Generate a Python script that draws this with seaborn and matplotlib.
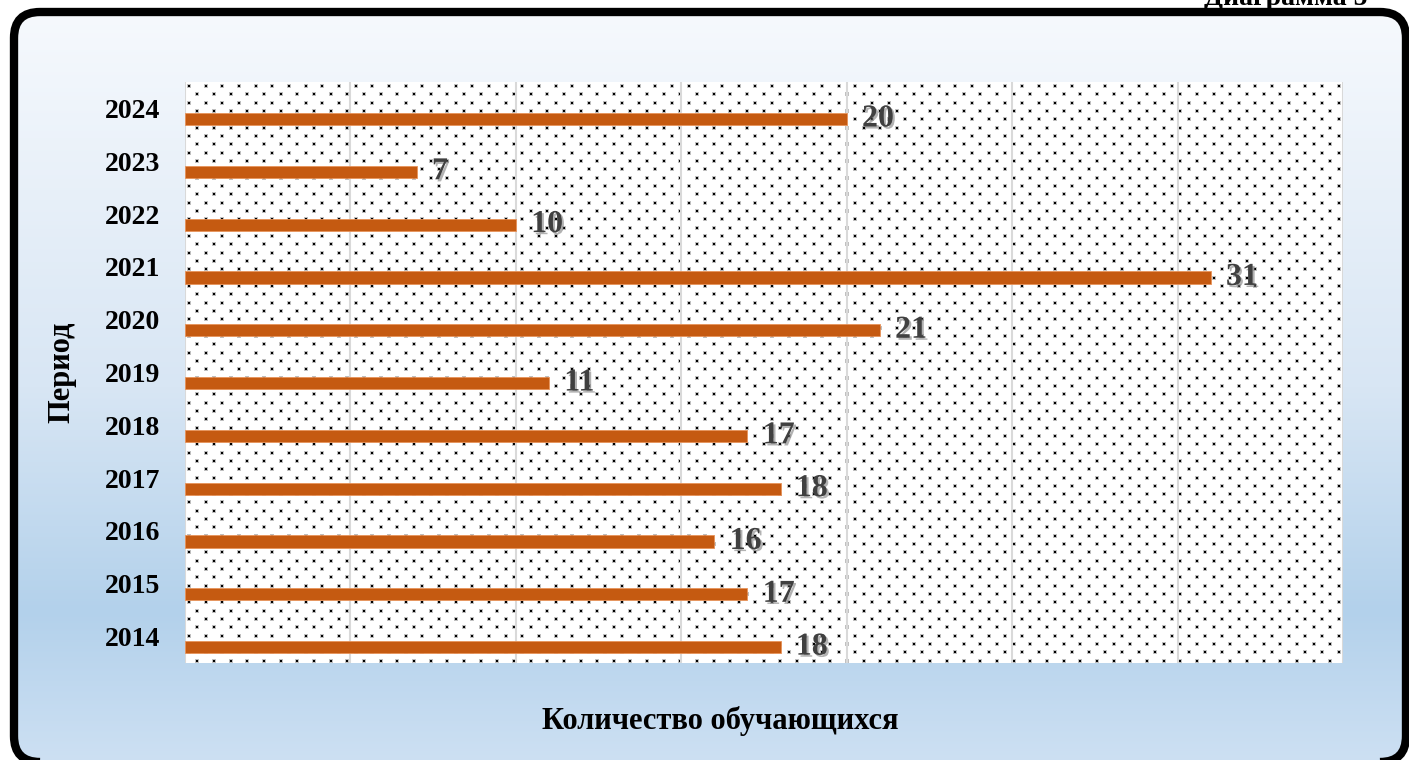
import numpy as np
import pandas as pd
import matplotlib
matplotlib.use("Agg")
import matplotlib.pyplot as plt
import matplotlib.patheffects as pe
from matplotlib.patches import FancyBboxPatch
import seaborn as sns

# data, top to bottom as in the chart
years = ["2024", "2023", "2022", "2021", "2020", "2019", "2018", "2017", "2016", "2015", "2014"]
students = [20, 7, 10, 31, 21, 11, 17, 18, 16, 17, 18]

title = "Диаграмма 5"
xlabel = "Количество обучающихся"
ylabel = "Период"

df = pd.DataFrame({"year": years, "n": students})

W, H = 1409, 760
fig = plt.figure(figsize=(W / 100, H / 100), dpi=100)
plt.rcParams["font.family"] = ["Liberation Serif", "DejaVu Serif"]

# plot area in pixels (from top-left)
px0, px1, py0, py1 = 185, 1343, 82, 663

# background axes in pixel units
bg = fig.add_axes([0, 0, 1, 1], zorder=-1)
bg.set_xlim(0, W)
bg.set_ylim(0, H)
bg.axis("off")

box = FancyBboxPatch((14, -2), 1392, 750, boxstyle="round,pad=0,rounding_size=26",
                     fc="none", ec="black", lw=6, zorder=3)
bg.add_patch(box)

# vertical gradient white -> light blue
stops = np.array([[0.0, 0xf6, 0xf9, 0xfd],
                  [0.5, 0xd8, 0xe6, 0xf4],
                  [0.8, 0xb3, 0xd1, 0xeb],
                  [1.0, 0xcd, 0xe0, 0xf3]])
t = np.linspace(0, 1, 400)
grad = np.stack([np.interp(t, stops[:, 0], stops[:, k]) for k in (1, 2, 3)], axis=-1) / 255
grad = grad[:, None, :]
im = bg.imshow(grad, extent=[14, 1406, -2, 748], aspect="auto", origin="upper", zorder=1)
im.set_clip_path(box)

# dotted fill of the plot area
ph, pw = py1 - py0, px1 - px0
pat = np.ones((ph, pw, 3))
sp = 8.33
for j in range(int(ph / sp) + 1):
    yy = int(round(j * sp)) + 3
    for i in range(int(pw / sp) + 1):
        if (i + j) % 2:
            continue
        xx = int(round(i * sp)) + 3
        pat[yy - 1:yy + 3, xx - 1:xx + 3] = np.minimum(pat[yy - 1:yy + 3, xx - 1:xx + 3], 0.75)
        pat[yy:yy + 2, xx:xx + 2] = 0.0
bg.imshow(pat, extent=[px0, px1, H - py1, H - py0], aspect="auto",
          interpolation="nearest", zorder=2)

# main axes
ax = fig.add_axes([px0 / W, (H - py1) / H, pw / W, ph / H], zorder=1)
ax.patch.set_alpha(0)
sns.barplot(data=df, x="n", y="year", order=years, orient="h", width=0.23,
            color="#c55a11", edgecolor="#e8935a", linewidth=0.6, saturation=1, ax=ax)

n = len(years)
off = 0.2
ax.set_ylim(n - 0.5 - off, -0.5 - off)
ax.set_yticks(np.arange(n) - off)
ax.set_yticklabels(years, fontsize=20, fontweight="bold", color="black")
ax.set_xlim(0, 35)
ax.set_xticks(np.arange(0, 36, 5))
ax.set_xticklabels([])
ax.tick_params(length=0)
ax.tick_params(axis="y", pad=18)
ax.grid(axis="x", color="#d9d9d9", lw=1.5)
ax.grid(axis="y", visible=False)
ax.set_axisbelow(True)
for s in ax.spines.values():
    s.set_visible(False)

labels = ax.bar_label(ax.containers[0], padding=11, fontsize=23, fontweight="bold",
                      color="#404040")
for lb in labels:
    lb.set_path_effects([pe.withSimplePatchShadow(offset=(1.5, -1.5),
                                                  shadow_rgbFace="#808080", alpha=0.6)])

ax.set_xlabel(xlabel, fontsize=22, fontweight="bold")
ax.xaxis.set_label_coords((720 - px0) / pw, (py1 - 706) / ph)
ax.set_ylabel(ylabel, fontsize=22, fontweight="bold")
ax.yaxis.set_label_coords((76 - px0) / pw, 0.5)

# the title sits partly above the top edge, as in the reference
fig.text(1368 / W, (H - 5) / H, title, ha="right", va="baseline",
         fontsize=20, fontweight="bold")

fig.savefig("out.png", dpi=100)
